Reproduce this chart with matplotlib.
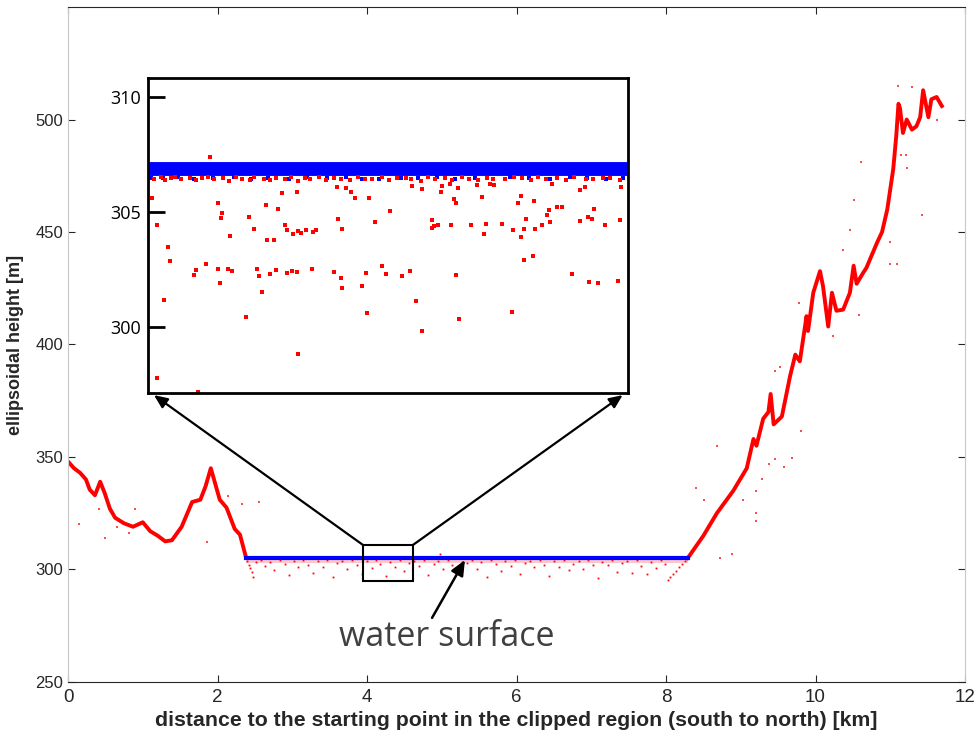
import matplotlib
matplotlib.use('Agg')
import matplotlib.pyplot as plt
from matplotlib.patches import Rectangle

# terrain profile (red), km / m
terrain_x = [0.00, 0.08, 0.16, 0.24, 0.29, 0.36, 0.43, 0.49, 0.56, 0.63, 0.75, 0.87, 1.00, 1.10, 1.20,
             1.30, 1.39, 1.52, 1.66, 1.77, 1.84, 1.91, 2.03, 2.12, 2.23, 2.30, 2.38]
terrain_y = [348, 345, 343, 340, 335.5, 333, 339, 334, 327, 323, 320.5, 319, 321, 317, 315,
             312.5, 313, 319, 330, 331, 337, 345, 331, 327.5, 318, 315.5, 305.5]
slope_x = [8.30, 8.50, 8.68, 8.90, 9.08, 9.17, 9.21, 9.30, 9.37, 9.40, 9.44, 9.55, 9.66, 9.73, 9.79,
           9.88, 9.90, 9.97, 10.06, 10.10, 10.17, 10.22, 10.28, 10.37, 10.46, 10.51, 10.55, 10.64,
           10.68, 10.82, 10.89, 10.96, 11.00, 11.04, 11.08, 11.11, 11.13, 11.17, 11.22, 11.29,
           11.35, 11.40, 11.44, 11.51, 11.55, 11.62, 11.69]
slope_y = [305.5, 315, 325, 335, 345, 358, 355, 367, 370, 378, 364.5, 368, 386, 395.5, 392.5,
           412.6, 406, 423, 432.6, 426, 408, 423, 415, 415.5, 423, 435, 427, 432,
           434, 445, 450, 460, 469, 478, 492.6, 507, 505, 494, 500, 495.5,
           497, 501, 513, 501, 509, 510, 506]

# water surface (blue) in the main view
water_x = [2.38, 8.30]
water_y = [305.3, 305.3]

# red returns below / around the water surface
under_x = [2.40, 2.42, 2.44, 2.46, 2.47, 2.52, 2.58, 2.63, 2.70, 2.76, 2.83, 2.90, 2.96, 3.02, 3.08,
           3.15, 3.21, 3.28, 3.35, 3.41, 3.47, 3.55, 3.60, 3.66, 3.73, 3.80, 3.86, 3.93, 4.00, 4.06,
           4.12, 4.18, 4.25, 4.31, 4.37, 4.44, 4.50, 4.56, 4.63, 4.70, 4.76, 4.82, 4.89, 4.95, 5.02,
           5.08, 5.14, 5.21, 5.27, 5.34, 5.40, 5.47, 5.53, 5.60, 5.66, 5.72, 5.79, 5.85, 5.92, 5.98,
           6.05, 6.11, 6.18, 6.24, 6.31, 6.37, 6.44, 6.50, 6.57, 6.63, 6.70, 6.76, 6.83, 6.89, 6.96,
           7.02, 7.09, 7.15, 7.22, 7.28, 7.35, 7.41, 7.48, 7.54, 7.61, 7.67, 7.74, 7.80, 7.87, 7.93,
           7.98, 8.02, 8.06, 8.10, 8.14, 8.18, 8.22, 8.25, 8.28, 4.97]
under_y = [303.8, 302.1, 300.5, 298.9, 296.5, 303.2, 304.1, 301.7, 303.5, 299.8, 304.0, 302.6, 297.4, 303.9, 300.9,
           304.2, 302.2, 298.6, 303.6, 301.3, 304.3, 296.8, 302.8, 303.9, 300.2, 304.1, 302.0, 298.1, 303.7, 300.7,
           304.2, 302.4, 296.9, 303.5, 301.0, 304.0, 299.4, 302.9, 303.8, 301.6, 304.3, 297.6, 302.5, 303.9, 300.4,
           304.1, 301.9, 298.9, 303.4, 302.7, 304.2, 300.1, 303.2, 296.7, 304.0, 302.3, 299.5, 303.7, 301.4, 304.3,
           298.2, 302.8, 303.9, 300.9, 304.1, 302.0, 297.3, 303.6, 301.2, 304.2, 299.7, 302.6, 303.8, 300.3, 304.0,
           301.8, 296.4, 303.3, 302.2, 304.2, 299.0, 302.9, 303.7, 298.4, 304.1, 301.5, 297.9, 303.5, 300.6, 304.0,
           302.4, 295.2, 296.6, 298.1, 299.5, 301.0, 302.6, 303.7, 304.6, 307.1]

# stray returns off the terrain
stray_x = [0.14, 0.41, 0.50, 0.65, 0.81, 0.90, 1.86, 2.14, 2.33, 2.56, 8.40, 8.51, 8.68, 8.72, 8.88,
           9.03, 9.21, 9.21, 9.21, 9.28, 9.38, 9.46, 9.46, 9.53, 9.58, 9.69, 9.78, 9.81, 10.24, 10.37,
           10.46, 10.51, 10.58, 10.61, 11.00, 11.00, 11.09, 11.10, 11.14, 11.21, 11.22, 11.29, 11.43, 11.62]
stray_y = [320, 326.7, 314, 318.7, 316.4, 326.7, 312, 332.6, 329, 330, 336, 330.8, 355, 305, 306.7,
           331, 334.8, 325, 321.5, 340, 346.7, 349, 388, 390, 345.6, 349.6, 418.5, 361.5, 403.7, 442,
           450.7, 464.4, 412.9, 481, 435.6, 445.5, 435.6, 515, 484.4, 484.4, 478.5, 514.5, 457.5, 500]

# zoom window
box_x = [3.95, 4.61]
box_y = [294.9, 310.8]

# inset: water band and red returns (km / m)
band_x = [4.0, 4.6]
band_y = [306.86, 306.86]
row_x = [4.008, 4.016, 4.021, 4.029, 4.034, 4.041, 4.052, 4.060, 4.068, 4.075, 4.083, 4.094, 4.101,
         4.110, 4.118, 4.127, 4.133, 4.145, 4.152, 4.160, 4.171, 4.179, 4.188, 4.196, 4.203, 4.214,
         4.222, 4.233, 4.241, 4.252, 4.262, 4.271, 4.280, 4.292, 4.301, 4.311, 4.322, 4.329, 4.341,
         4.350, 4.359, 4.371, 4.380, 4.392, 4.401, 4.413, 4.424, 4.431, 4.446, 4.458, 4.467, 4.479,
         4.488, 4.497, 4.511, 4.523, 4.533, 4.547, 4.556, 4.569, 4.578, 4.590]
row_y = [306.45, 306.52, 306.41, 306.48, 306.55, 306.43, 306.50, 306.38, 306.47, 306.53, 306.42, 306.49,
         306.36, 306.51, 306.44, 306.40, 306.54, 306.46, 306.39, 306.50, 306.43, 306.52, 306.37, 306.48,
         306.45, 306.53, 306.41, 306.49, 306.44, 306.38, 306.51, 306.46, 306.42, 306.55, 306.40, 306.47,
         306.50, 306.43, 306.37, 306.52, 306.45, 306.48, 306.41, 306.54, 306.44, 306.39, 306.50, 306.46,
         306.42, 306.53, 306.47, 306.40, 306.51, 306.44, 306.49, 306.38, 306.52, 306.45, 306.43, 306.50,
         306.47, 306.41]
# blue returns straying just below the band
fuzz_x = [4.004, 4.019, 4.037, 4.058, 4.081, 4.107, 4.129, 4.150, 4.176, 4.199, 4.224, 4.247, 4.268,
          4.289, 4.316, 4.338, 4.361, 4.384, 4.409, 4.431, 4.452, 4.476, 4.503, 4.527, 4.549, 4.572, 4.594]
fuzz_y = [306.50, 306.47, 306.52, 306.44, 306.49, 306.53, 306.45, 306.50, 306.43, 306.51, 306.48, 306.54,
          306.46, 306.42, 306.50, 306.47, 306.53, 306.44, 306.49, 306.45, 306.52, 306.47, 306.43, 306.51,
          306.48, 306.46, 306.50]
dots_x = [4.005, 4.011, 4.025, 4.027, 4.020, 4.011, 4.063, 4.058, 4.060, 4.073, 4.088, 4.091, 4.093,
          4.103, 4.088, 4.090, 4.100, 4.105, 4.077, 4.122, 4.126, 4.133, 4.136, 4.139, 4.143, 4.148,
          4.149, 4.157, 4.153, 4.160, 4.162, 4.168, 4.171, 4.174, 4.174, 4.180, 4.181, 4.186, 4.186,
          4.188, 4.191, 4.187, 4.198, 4.205, 4.206, 4.210, 4.233, 4.236, 4.238, 4.241, 4.242, 4.243,
          4.248, 4.254, 4.259, 4.268, 4.273, 4.274, 4.276, 4.284, 4.292, 4.298, 4.303, 4.318, 4.327,
          4.330, 4.335, 4.343, 4.343, 4.355, 4.357, 4.355, 4.363, 4.366, 4.368, 4.377, 4.379, 4.383,
          4.385, 4.385, 4.387, 4.389, 4.404, 4.411, 4.417, 4.420, 4.423, 4.428, 4.433, 4.442, 4.455,
          4.456, 4.463, 4.466, 4.466, 4.470, 4.470, 4.473, 4.481, 4.482, 4.484, 4.493, 4.499, 4.501,
          4.503, 4.505, 4.511, 4.518, 4.530, 4.540, 4.540, 4.546, 4.550, 4.551, 4.555, 4.557, 4.562,
          4.571, 4.588, 4.590, 4.591]
dots_y = [305.63, 304.42, 303.47, 302.88, 301.18, 297.74, 297.15, 302.26, 302.47, 302.72, 305.41, 304.74,
          304.96, 303.96, 302.50, 301.89, 302.50, 302.42, 307.39, 300.41, 304.78, 304.26, 302.50, 302.20,
          301.51, 305.29, 303.78, 303.80, 302.28, 302.45, 305.15, 305.84, 304.45, 304.23, 302.32, 302.42,
          304.04, 305.89, 302.39, 304.19, 304.07, 298.82, 304.21, 302.50, 304.14, 304.20, 302.39, 306.10,
          304.71, 302.14, 301.70, 304.28, 306.07, 305.87, 305.63, 301.75, 302.35, 300.59, 305.61, 304.56,
          302.66, 302.28, 305.04, 302.20, 302.41, 306.12, 301.13, 306.02, 299.79, 304.63, 304.37, 304.29,
          304.44, 305.89, 306.14, 306.21, 304.45, 305.59, 305.41, 302.25, 306.07, 300.34, 304.42, 306.17,
          305.64, 304.03, 304.49, 306.22, 306.20, 304.48, 300.62, 304.23, 305.40, 305.68, 303.93, 304.27,
          302.91, 304.71, 303.08, 305.50, 304.26, 304.44, 304.89, 305.08, 304.57, 306.24, 305.20, 305.24,
          302.31, 304.60, 305.95, 306.11, 304.79, 301.93, 304.68, 305.11, 301.89, 304.44, 301.98, 304.64,
          306.11]

ink = '#262626'
plt.rcParams['font.family'] = ['Liberation Sans', 'DejaVu Sans']

fig = plt.figure(figsize=(9.79, 7.38), dpi=100)
ax = fig.add_axes([0.0695, 0.0759, 0.9162, 0.9146])

ax.fill_between(water_x, 302.8, 304.8, color='red', alpha=0.22, lw=0)
ax.plot(under_x, under_y, ls='none', marker='s', ms=1.3, color='red', mew=0)
ax.plot(stray_x, stray_y, ls='none', marker='s', ms=1.6, color='red', mew=0, alpha=0.7)
ax.plot(terrain_x, terrain_y, color='red', lw=2.8)
ax.plot(slope_x, slope_y, color='red', lw=2.8)
ax.plot(water_x, water_y, color='blue', lw=3)

ax.add_patch(Rectangle((box_x[0], box_y[0]), box_x[1] - box_x[0], box_y[1] - box_y[0],
                       fill=False, ec='black', lw=1.5, zorder=5))
ax.annotate('', xy=(1.15, 377.5), xytext=(box_x[0], box_y[1]),
            arrowprops=dict(arrowstyle='-|>,head_length=0.8,head_width=0.35', color='black', lw=1.6,
                            shrinkA=0, shrinkB=0))
ax.annotate('', xy=(7.42, 377.5), xytext=(box_x[1], box_y[1]),
            arrowprops=dict(arrowstyle='-|>,head_length=0.8,head_width=0.35', color='black', lw=1.6,
                            shrinkA=0, shrinkB=0))
ax.annotate('', xy=(5.31, 304.2), xytext=(4.87, 278.5),
            arrowprops=dict(arrowstyle='-|>,head_length=0.9,head_width=0.4', color='black', lw=1.8,
                            shrinkA=0, shrinkB=0))
ax.text(5.07, 269.8, 'water surface', fontsize=24.5, color='#404040', ha='center', va='center',
        family=['Open Sans', 'DejaVu Sans'])

ax.set_xlim(0, 12)
ax.set_ylim(250, 550)
ax.set_xticks([0, 2, 4, 6, 8, 10, 12])
ax.set_yticks([250, 300, 350, 400, 450, 500])
ax.tick_params(direction='in', top=True, right=True, labelsize=12, colors=ink, length=5)
ax.tick_params(axis='x', labelsize=13.5, pad=5)
for s in ['left', 'right']:
    ax.spines[s].set_color('#c8c8c8')
for s in ['top', 'bottom']:
    ax.spines[s].set_color(ink)
ax.set_xlabel('distance to the starting point in the clipped region (south to north) [km]',
              fontsize=15.3, fontweight='bold', color=ink, labelpad=4)
ax.set_ylabel('ellipsoidal height [m]', fontsize=13, fontweight='bold', color=ink, labelpad=8)

# inset
ins = fig.add_axes([0.1512, 0.4675, 0.4903, 0.4268])
ins.plot(band_x, band_y, color='blue', lw=10, solid_capstyle='butt')
ins.plot(fuzz_x, fuzz_y, ls='none', marker='s', ms=2.6, color='blue', mew=0)
ins.plot(row_x, row_y, ls='none', marker='s', ms=2.6, color='red', mew=0)
ins.plot(dots_x, dots_y, ls='none', marker='s', ms=2.6, color='red', mew=0)
ins.set_xlim(4.0, 4.6)
ins.set_ylim(297.1, 310.85)
ins.set_xticks([])
ins.set_yticks([300, 305, 310])
ins.tick_params(axis='y', direction='in', length=12, width=2, labelsize=13, pad=5, colors='black')
for lbl in ins.get_yticklabels():
    lbl.set_family(['Open Sans', 'DejaVu Sans'])
for s in ins.spines.values():
    s.set_linewidth(2)
    s.set_color('black')

fig.savefig('out.png', dpi=100)
